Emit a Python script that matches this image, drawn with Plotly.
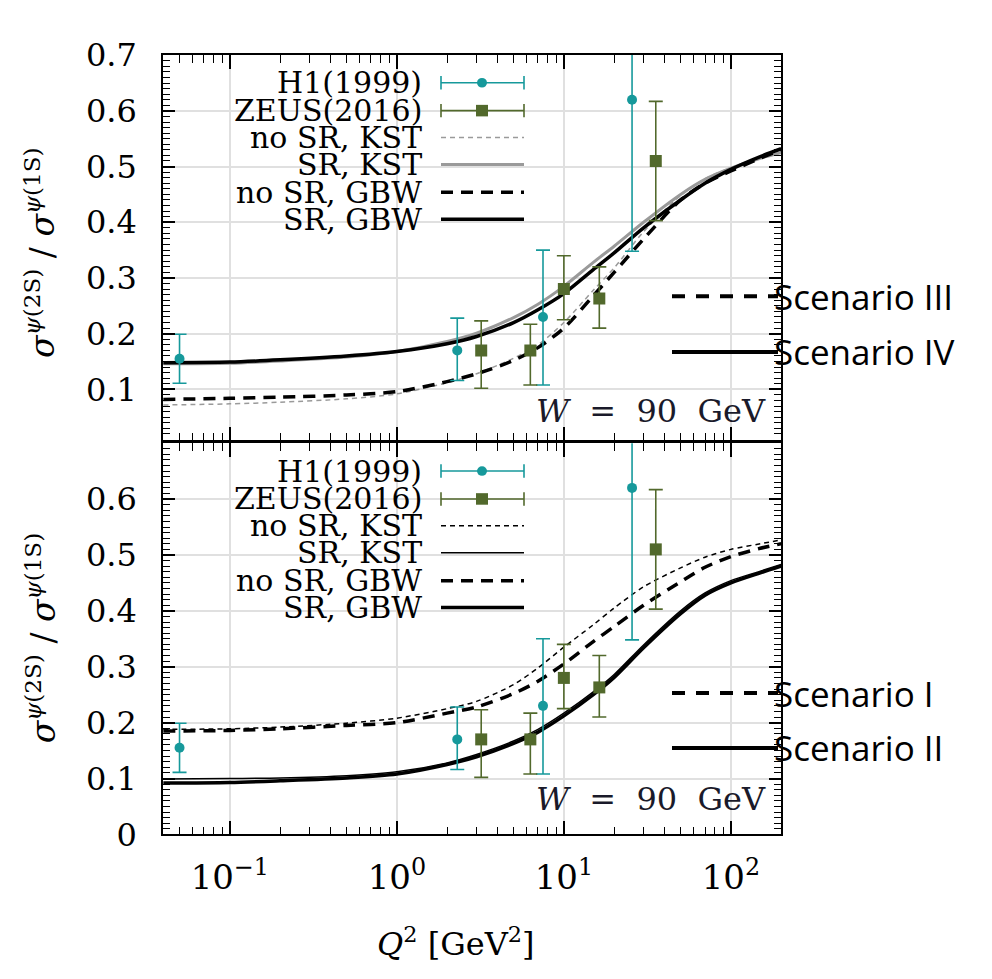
import plotly.graph_objects as go

# ---------------- data ----------------
q2 = [0.04, 0.1, 0.2, 0.5, 1, 2, 3, 5, 7, 10, 15, 20, 30, 50, 70, 100, 150, 200]

# upper panel (Scenarios III / IV)
top_nosr_kst = [0.072, 0.074, 0.077, 0.083, 0.092, 0.112, 0.128, 0.156, 0.18, 0.22, 0.278, 0.318, 0.383, 0.448, 0.478, 0.498, 0.515, 0.526]
top_sr_kst = [0.146, 0.147, 0.151, 0.158, 0.168, 0.186, 0.201, 0.229, 0.253, 0.285, 0.328, 0.357, 0.40, 0.45, 0.477, 0.497, 0.515, 0.525]
top_nosr_gbw = [0.082, 0.084, 0.086, 0.09, 0.096, 0.114, 0.128, 0.152, 0.175, 0.21, 0.268, 0.31, 0.37, 0.44, 0.47, 0.492, 0.515, 0.53]
top_sr_gbw = [0.148, 0.149, 0.153, 0.16, 0.168, 0.182, 0.195, 0.22, 0.243, 0.272, 0.315, 0.345, 0.39, 0.44, 0.47, 0.495, 0.518, 0.532]

# lower panel (Scenarios I / II)
bot_nosr_kst = [0.188, 0.189, 0.192, 0.199, 0.208, 0.225, 0.238, 0.268, 0.298, 0.335, 0.375, 0.405, 0.443, 0.477, 0.496, 0.51, 0.52, 0.527]
bot_nosr_gbw = [0.185, 0.186, 0.189, 0.195, 0.2, 0.217, 0.228, 0.252, 0.274, 0.305, 0.345, 0.372, 0.41, 0.452, 0.478, 0.497, 0.512, 0.52]
bot_sr_kst = [0.099, 0.1, 0.101, 0.105, 0.112, 0.128, 0.143, 0.167, 0.188, 0.217, 0.255, 0.286, 0.339, 0.40, 0.432, 0.454, 0.471, 0.483]
bot_sr_gbw = [0.092, 0.093, 0.096, 0.101, 0.108, 0.125, 0.139, 0.163, 0.183, 0.212, 0.25, 0.281, 0.334, 0.395, 0.428, 0.45, 0.468, 0.48]

# measurements
h1_q2 = [0.05, 2.3, 7.5, 25.6]
h1_ratio = [0.155, 0.17, 0.23, 0.62]
h1_err_plus = [0.044, 0.058, 0.12, 0.27]
h1_err_minus = [0.044, 0.054, 0.122, 0.272]

zeus_q2 = [3.2, 6.3, 10.0, 16.3, 35.5]
zeus_ratio = [0.17, 0.17, 0.28, 0.263, 0.51]
zeus_err_plus = [0.053, 0.047, 0.06, 0.057, 0.107]
zeus_err_minus = [0.068, 0.062, 0.055, 0.053, 0.107]

legend_labels = ["H1(1999)", "ZEUS(2016)", "no SR, KST", "SR, KST", "no SR, GBW", "SR, GBW"]
x_tickvals = [0.1, 1, 10, 100]
x_ticktext = ["10<sup>−1</sup>", "10<sup>0</sup>", "10<sup>1</sup>", "10<sup>2</sup>"]

# ---------------- styling ----------------
W, H = 992, 979
SERIF = "DejaVu Serif"
TEAL = "#16999b"
GREEN = "#52692c"
GRAY = "#9a9a9a"


def px(x):
    return x / W


def py(y):
    return 1 - y / H


fig = go.Figure()

panels = [
    ("x2", "y2", top_nosr_kst, top_sr_kst, top_nosr_gbw, top_sr_gbw, True),
    ("x", "y", bot_nosr_kst, bot_sr_kst, bot_nosr_gbw, bot_sr_gbw, False),
]

for xa, ya, nk, sk, ng, sg, is_top in panels:
    kst_col = GRAY if is_top else "black"
    fig.add_trace(go.Scatter(x=q2, y=nk, mode="lines", xaxis=xa, yaxis=ya,
                             line=dict(color=kst_col, width=1.5, dash="5px,4px", shape="spline", smoothing=0.8),
                             showlegend=False))
    fig.add_trace(go.Scatter(x=q2, y=sk, mode="lines", xaxis=xa, yaxis=ya,
                             line=dict(color=kst_col, width=3 if is_top else 1.5, shape="spline", smoothing=0.8),
                             showlegend=False))
    fig.add_trace(go.Scatter(x=q2, y=ng, mode="lines", xaxis=xa, yaxis=ya,
                             line=dict(color="black", width=3.5, dash="12px,8px", shape="spline", smoothing=0.8),
                             showlegend=False))
    fig.add_trace(go.Scatter(x=q2, y=sg, mode="lines", xaxis=xa, yaxis=ya,
                             line=dict(color="black", width=3.5, shape="spline", smoothing=0.8),
                             showlegend=False))
    fig.add_trace(go.Scatter(x=h1_q2, y=h1_ratio, mode="markers", xaxis=xa, yaxis=ya,
                             marker=dict(symbol="circle", size=10, color=TEAL),
                             error_y=dict(type="data", array=h1_err_plus, arrayminus=h1_err_minus,
                                          color=TEAL, thickness=1.6, width=7),
                             showlegend=False))
    fig.add_trace(go.Scatter(x=zeus_q2, y=zeus_ratio, mode="markers", xaxis=xa, yaxis=ya,
                             marker=dict(symbol="square", size=12, color=GREEN),
                             error_y=dict(type="data", array=zeus_err_plus, arrayminus=zeus_err_minus,
                                          color=GREEN, thickness=1.6, width=7),
                             showlegend=False))

xdom = [px(155), px(773)]
common_x = dict(type="log", range=[-1.40, 2.30], domain=xdom, showline=True, linecolor="black",
                linewidth=1.6, mirror="allticks", ticks="inside", ticklen=14, tickcolor="black",
                tickwidth=1.6, showgrid=True, gridcolor="#e0e0e0", gridwidth=1.5,
                tickmode="array", tickvals=x_tickvals, ticktext=x_ticktext, zeroline=False,
                minor=dict(dtick="D1", ticks="inside", ticklen=8, tickcolor="black",
                           tickwidth=1.3, showgrid=False))
common_y = dict(showline=True, linecolor="black", linewidth=1.6, mirror="allticks",
                ticks="inside", ticklen=12, tickcolor="black", tickwidth=1.6,
                showgrid=True, gridcolor="#e0e0e0", gridwidth=1.5, zeroline=False,
                tickfont=dict(family=SERIF, size=32, color="black"), ticklabelstandoff=18,
                minor=dict(dtick=0.01, tick0=0, ticks="inside", ticklen=7, tickcolor="black",
                           tickwidth=1.2, showgrid=False))

fig.update_layout(
    width=W, height=H, margin=dict(l=0, r=0, t=0, b=0),
    paper_bgcolor="white", plot_bgcolor="white", showlegend=False,
    xaxis=dict(common_x, anchor="y", tickfont=dict(family=SERIF, size=34, color="black"),
               ticklabelstandoff=12),
    xaxis2=dict(common_x, anchor="y2", showticklabels=False),
    yaxis=dict(common_y, anchor="x", domain=[py(840), py(433)], range=[0, 0.7],
               tickmode="array", tickvals=[0, 0.1, 0.2, 0.3, 0.4, 0.5, 0.6],
               ticktext=["0", "0.1", "0.2", "0.3", "0.4", "0.5", "0.6"]),
    yaxis2=dict(common_y, anchor="x2", domain=[py(430), py(29)], range=[0.0086, 0.7005],
                tickmode="array", tickvals=[0.1, 0.2, 0.3, 0.4, 0.5, 0.6, 0.7],
                ticktext=["0.1", "0.2", "0.3", "0.4", "0.5", "0.6", "0.7"]),
)

annotations = []
shapes = []

ylab = "<i>σ</i><sup><i>ψ</i>(2S)</sup> / <i>σ</i><sup><i>ψ</i>(1S)</sup>"
for yc in (235, 636):
    annotations.append(dict(x=px(33), y=py(yc), xref="paper", yref="paper", text=ylab,
                            showarrow=False, textangle=-90, xanchor="center", yanchor="middle",
                            font=dict(family=SERIF, size=33, color="black")))

annotations.append(dict(x=px(447), y=py(952), xref="paper", yref="paper",
                        text="<i>Q</i><sup>2</sup> [GeV<sup>2</sup>]", showarrow=False,
                        xanchor="center", yanchor="middle",
                        font=dict(family=SERIF, size=32, color="black")))

for yc in (400, 803):
    annotations.append(dict(x=px(760), y=py(yc), xref="paper", yref="paper",
                            text="<i>W</i>\u00a0\u00a0=\u00a0\u00a090\u00a0\u00a0GeV", showarrow=False,
                            xanchor="right", yanchor="middle",
                            font=dict(family=SERIF, size=32, color="#1a1a2a")))

# hand-made legends (text right-aligned, key on the right)
row_offsets = [29, 58, 86, 114, 143, 171]
for top, is_top in ((29, True), (433, False)):
    kst_col = GRAY if is_top else "black"
    for i, lab in enumerate(legend_labels):
        yr = top + row_offsets[i]
        annotations.append(dict(x=px(416), y=py(yr), xref="paper", yref="paper", text=lab,
                                showarrow=False, xanchor="right", yanchor="middle",
                                font=dict(family=SERIF, size=30, color="black")))
    x0, x1, xm = 433, 516, 474
    for i, col in ((0, TEAL), (1, GREEN)):
        yr = top + row_offsets[i]
        shapes.append(dict(type="line", xref="paper", yref="paper", x0=px(x0), x1=px(x1),
                           y0=py(yr), y1=py(yr), line=dict(color=col, width=1.6)))
        for xc in (x0, x1):
            shapes.append(dict(type="line", xref="paper", yref="paper", x0=px(xc), x1=px(xc),
                               y0=py(yr - 7), y1=py(yr + 7), line=dict(color=col, width=1.6)))
        if i == 0:
            shapes.append(dict(type="circle", xref="paper", yref="paper", x0=px(xm - 5),
                               x1=px(xm + 5), y0=py(yr - 5), y1=py(yr + 5),
                               fillcolor=col, line=dict(color=col, width=0)))
        else:
            shapes.append(dict(type="rect", xref="paper", yref="paper", x0=px(xm - 6),
                               x1=px(xm + 6), y0=py(yr - 6), y1=py(yr + 6),
                               fillcolor=col, line=dict(color=col, width=0)))
    styles = [
        dict(color=kst_col, width=1.5, dash="5px,4px"),
        dict(color=kst_col, width=3 if is_top else 1.5),
        dict(color="black", width=3.5, dash="12px,8px"),
        dict(color="black", width=3.5),
    ]
    for k, st in enumerate(styles):
        yr = top + row_offsets[k + 2]
        shapes.append(dict(type="line", xref="paper", yref="paper", x0=px(x0), x1=px(x1),
                           y0=py(yr), y1=py(yr), line=st))

# scenario labels overlaid on the right
scen = [("Scenario III", 280, True), ("Scenario IV", 338, False),
        ("Scenario I", 693, True), ("Scenario II", 750, False)]
for txt, yc, dashed in scen:
    shapes.append(dict(type="line", xref="paper", yref="paper", x0=px(664), x1=px(770),
                       y0=py(yc), y1=py(yc), layer="above",
                       line=dict(color="black", width=4, dash="13px,11px" if dashed else "solid")))
    annotations.append(dict(x=px(764), y=py(yc), xref="paper", yref="paper", text=txt,
                            showarrow=False, xanchor="left", yanchor="middle",
                            font=dict(family="Open Sans", size=35, color="black")))

fig.update_layout(annotations=annotations, shapes=shapes)

fig.write_html("out.html")
